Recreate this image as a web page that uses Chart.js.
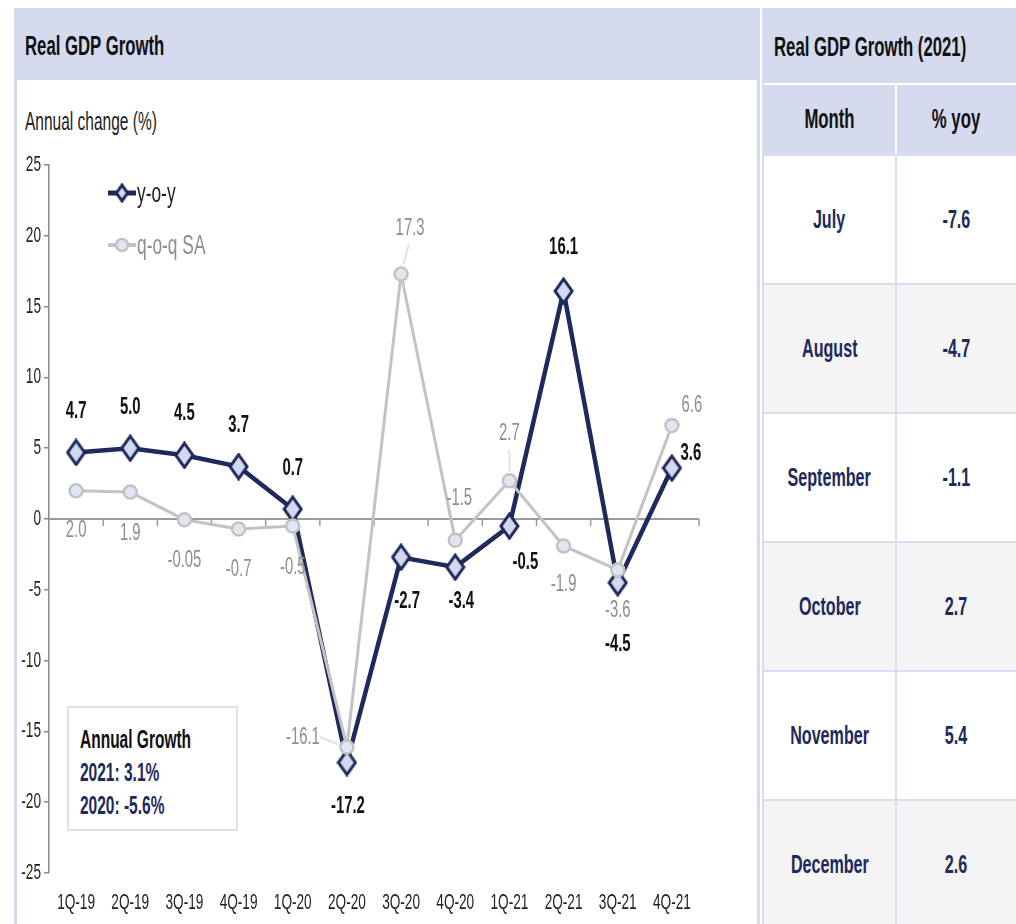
<!DOCTYPE html>
<html>
<head>
<meta charset="utf-8">
<script src="https://cdn.jsdelivr.net/npm/chart.js@4.4.1/dist/chart.umd.min.js"></script>
<style>
  body { margin: 0; width: 1016px; height: 924px; overflow: hidden; background: #fff;
         font-family: 'Liberation Sans', Arial, sans-serif; position: relative; }
  .nx { display: inline-block; transform: scaleX(0.62); transform-origin: left center; white-space: nowrap; }
  .nc { display: inline-block; transform: scaleX(0.62); transform-origin: center center; white-space: nowrap; }
  #left { position: absolute; left: 14px; top: 8px; width: 740px; height: 916px;
          border-left: 3px solid #d5daee; border-right: 3px solid #d5daee; }
  #left .head { height: 72px; background: #d5daee; font-weight: bold; font-size: 27px;
                line-height: 76px; padding-left: 8px; color: #111; }
  #unit { position: absolute; left: 25px; top: 106px; font-size: 25px; line-height: 30px; color: #222; }
  #wrap { position: absolute; left: 17px; top: 82px; width: 740px; height: 842px; }
  #annual { position: absolute; left: 67px; top: 706px; width: 171px; height: 125px;
            border: 2px solid #dbe2f0; box-sizing: border-box; padding: 15px 0 0 11px;
            font-weight: bold; font-size: 25px; line-height: 33px; color: #1d2a5b; background: #fff; }
  #annual .t { color: #111; }
  #right { position: absolute; left: 762px; top: 8px; width: 252px; height: 916px;
           overflow: hidden; border-left: 2px solid #d9ddef; }
  #right .ttl { height: 75px; background: #d5daee; font-weight: bold; font-size: 27px;
                line-height: 78px; padding-left: 10px; color: #111; }
  .row { display: flex; }
  .row > div { display: flex; align-items: center; justify-content: center; }
  .c1 { width: 131px; }
  .c2 { width: 119px; border-left: 2px solid #d9ddef; }
  .hdr { margin-top: 2px; height: 69px; background: #d5daee; font-weight: bold; font-size: 27px; color: #111; }
  .hdr .c2 { border-left-color: #fff; }
  .body { height: 127px; border-top: 2px solid #d9ddef; font-weight: bold; font-size: 26px; color: #1d2a5b; }
  .body.alt { background: #f4f4f4; }
</style>
</head>
<body>
<div id="left"><div class="head"><span class="nx">Real GDP Growth</span></div></div>
<div id="unit"><span class="nx">Annual change (%)</span></div>
<div id="wrap"><canvas id="gdp-chart"></canvas></div>
<div id="annual"></div>
<div id="right"><div class="ttl"><span class="nx">Real GDP Growth (2021)</span></div></div>

<script>
// Real GDP growth, quarterly
const quarters = ['1Q-19', '2Q-19', '3Q-19', '4Q-19', '1Q-20', '2Q-20', '3Q-20', '4Q-20', '1Q-21', '2Q-21', '3Q-21', '4Q-21'];
const yoyGrowth = [4.7, 5.0, 4.5, 3.7, 0.7, -17.2, -2.7, -3.4, -0.5, 16.1, -4.5, 3.6];
const qoqGrowth = [2.0, 1.9, -0.05, -0.7, -0.5, -16.1, 17.3, -1.5, 2.7, -1.9, -3.6, 6.6];
const yMin = -25;
const yMax = 25;
const yStep = 5;

// annual growth box
const annualYears = ['2021', '2020'];
const annualValues = [3.1, -5.6];

// monthly table
const months2021 = ['July', 'August', 'September', 'October', 'November', 'December'];
const monthlyYoy = [-7.6, -4.7, -1.1, 2.7, 5.4, 2.6];

// where each value label sits relative to its point [dx, dy]; some q-o-q labels get a leader line
const yoyLabelPos = [[0, -41], [0, -41], [0, -42], [0, -41], [0, -41], [1, 44], [6, 44], [6, 34], [16, 36], [0, -44], [0, 62], [19, -15]];
const qoqLabelPos = [[0, 40], [0, 41], [0, 41], [0, 40], [0, 41], [-44, -10], [9, -46], [4, -42], [0, -47], [0, 38], [0, 40], [20, -20]];
const qoqLeaders = [5, 6, 8];

const FONT = "'Liberation Sans', Arial, sans-serif";
const SX = 0.62;            // horizontal squeeze, narrow type look
const NAVY = '#1d2a5b';
const GREY = '#c3c3c3';

function fmt(v) {
    return Math.abs(v * 10 - Math.round(v * 10)) > 1e-9 ? String(v) : v.toFixed(1);
}

function narrowText(ctx, str, x, y) {
    ctx.save();
    ctx.translate(x, y);
    ctx.scale(SX, 1);
    ctx.fillText(str, 0, 0);
    ctx.restore();
}

// tall diamond marker like the Excel one
function makeDiamond(w, h, lw) {
    const c = document.createElement('canvas');
    c.width = w; c.height = h;
    const ctx = c.getContext('2d');
    const m = lw / 2 + 0.5;
    ctx.beginPath();
    ctx.moveTo(w / 2, m);
    ctx.lineTo(w - m, h / 2);
    ctx.lineTo(w / 2, h - m);
    ctx.lineTo(m, h / 2);
    ctx.closePath();
    ctx.fillStyle = '#d3d9ee';
    ctx.fill();
    ctx.lineWidth = lw;
    ctx.strokeStyle = NAVY;
    ctx.stroke();
    return c;
}

document.addEventListener('DOMContentLoaded', function() {
    // annual growth box
    const box = document.getElementById('annual');
    let html = '<div class="t"><span class="nx">Annual Growth</span></div>';
    annualYears.forEach((y, i) => {
        html += '<div><span class="nx">' + y + ': ' + annualValues[i].toFixed(1) + '%</span></div>';
    });
    box.innerHTML = html;

    // monthly table
    const right = document.getElementById('right');
    let t = '<div class="row hdr"><div class="c1"><span class="nc">Month</span></div>' +
            '<div class="c2"><span class="nc">% yoy</span></div></div>';
    months2021.forEach((m, i) => {
        t += '<div class="row body' + (i % 2 ? ' alt' : '') + '"><div class="c1"><span class="nc">' + m +
             '</span></div><div class="c2"><span class="nc">' + monthlyYoy[i].toFixed(1) + '</span></div></div>';
    });
    right.insertAdjacentHTML('beforeend', t);

    initChart();
});

function initChart() {
    Chart.defaults.font.family = FONT;
    const diamond = makeDiamond(21, 28, 3);
    const legendDiamond = makeDiamond(15, 20, 3);

    const decor = {
        id: 'decor',
        beforeDatasetsDraw(chart) {
            const { ctx, chartArea, scales } = chart;
            const y0 = scales.y.getPixelForValue(0);
            ctx.save();
            // zero line with category ticks hanging below it
            ctx.strokeStyle = '#9a9a9a';
            ctx.lineWidth = 2;
            ctx.beginPath();
            ctx.moveTo(chartArea.left, y0);
            ctx.lineTo(chartArea.right, y0);
            ctx.stroke();
            ctx.lineWidth = 1.5;
            const n = quarters.length;
            for (let i = 1; i <= n; i++) {
                const x = chartArea.left + i * (chartArea.right - chartArea.left) / n;
                ctx.beginPath();
                ctx.moveTo(x, y0);
                ctx.lineTo(x, y0 + 7);
                ctx.stroke();
            }

            // axis tick labels, from the library's scales
            ctx.fillStyle = '#222';
            ctx.font = '22px ' + FONT;
            ctx.textBaseline = 'middle';
            ctx.textAlign = 'right';
            scales.y.ticks.forEach((tk, i) => {
                narrowText(ctx, String(tk.value), scales.y.right - 8, scales.y.getPixelForTick(i));
            });
            ctx.textAlign = 'center';
            scales.x.ticks.forEach((tk, i) => {
                narrowText(ctx, scales.x.getLabelForValue(tk.value), scales.x.getPixelForTick(i), chartArea.bottom + 30);
            });
            ctx.restore();
        },
        afterDatasetsDraw(chart) {
            const ctx = chart.ctx;
            ctx.save();
            ctx.textAlign = 'center';
            ctx.textBaseline = 'middle';

            // q-o-q labels
            const qMeta = chart.getDatasetMeta(1);
            ctx.font = '24px ' + FONT;
            qMeta.data.forEach((pt, i) => {
                const [dx, dy] = qoqLabelPos[i];
                if (qoqLeaders.includes(i)) {
                    ctx.strokeStyle = '#e2e2e2';
                    ctx.lineWidth = 2;
                    ctx.beginPath();
                    if (Math.abs(dx) > Math.abs(dy)) {
                        ctx.moveTo(pt.x + dx + 17, pt.y + dy);
                        ctx.lineTo(pt.x - 7, pt.y - 2);
                    } else {
                        ctx.moveTo(pt.x + dx * 0.25, pt.y - 9);
                        ctx.lineTo(pt.x + dx * 0.85, pt.y + dy + 16);
                    }
                    ctx.stroke();
                }
                ctx.fillStyle = '#8e8e8e';
                narrowText(ctx, fmt(qoqGrowth[i]), pt.x + dx, pt.y + dy);
            });

            // y-o-y labels
            const yMeta = chart.getDatasetMeta(0);
            ctx.font = 'bold 24px ' + FONT;
            ctx.fillStyle = '#111';
            yMeta.data.forEach((pt, i) => {
                const [dx, dy] = yoyLabelPos[i];
                narrowText(ctx, fmt(yoyGrowth[i]), pt.x + dx, pt.y + dy);
            });

            // legend
            const lx = 91, ly1 = 111, ly2 = 163;
            ctx.strokeStyle = NAVY;
            ctx.lineWidth = 5;
            ctx.beginPath(); ctx.moveTo(lx, ly1); ctx.lineTo(lx + 28, ly1); ctx.stroke();
            ctx.drawImage(legendDiamond, lx + 14 - 7.5, ly1 - 10);
            ctx.strokeStyle = GREY;
            ctx.lineWidth = 4;
            ctx.beginPath(); ctx.moveTo(lx, ly2); ctx.lineTo(lx + 28, ly2); ctx.stroke();
            ctx.beginPath(); ctx.arc(lx + 14, ly2, 6, 0, Math.PI * 2);
            ctx.fillStyle = '#dfe7f3'; ctx.fill();
            ctx.lineWidth = 2.5; ctx.stroke();
            ctx.textAlign = 'left';
            ctx.font = '28px ' + FONT;
            ctx.fillStyle = '#222';
            narrowText(ctx, 'y-o-y', lx + 29, ly1 + 1);
            ctx.fillStyle = '#8e8e8e';
            narrowText(ctx, 'q-o-q SA', lx + 29, ly2 + 1);
            ctx.restore();
        }
    };

    const ctx = document.getElementById('gdp-chart').getContext('2d');
    new Chart(ctx, {
        type: 'line',
        data: {
            labels: quarters,
            datasets: [{
                label: 'y-o-y',
                data: yoyGrowth,
                borderColor: NAVY,
                borderWidth: 4.5,
                pointStyle: diamond,
                pointRadius: 10,
                tension: 0,
                order: 2
            }, {
                label: 'q-o-q SA',
                data: qoqGrowth,
                borderColor: GREY,
                borderWidth: 3,
                pointStyle: 'circle',
                pointRadius: 6.5,
                pointBorderWidth: 2.5,
                pointBackgroundColor: '#dfe7f3',
                pointBorderColor: GREY,
                tension: 0,
                order: 1
            }]
        },
        options: {
            responsive: true,
            maintainAspectRatio: false,
            animation: false,
            events: [],
            layout: { padding: { top: 83, right: 58, left: 0, bottom: 0 } },
            plugins: {
                legend: { display: false },
                tooltip: { enabled: false }
            },
            scales: {
                x: {
                    offset: true,
                    grid: { display: false, drawTicks: false },
                    border: { display: false },
                    ticks: { display: false, autoSkip: false },
                    afterFit(scale) { scale.height = 51; }
                },
                y: {
                    min: yMin,
                    max: yMax,
                    ticks: { stepSize: yStep, display: false },
                    grid: { drawOnChartArea: false, drawTicks: true, tickLength: 5, color: '#8a8a8a', lineWidth: 1.5 },
                    border: { display: true, color: '#8a8a8a', width: 1.5 },
                    afterFit(scale) { scale.width = 32; }
                }
            }
        },
        plugins: [decor]
    });
}
</script>
</body>
</html>
